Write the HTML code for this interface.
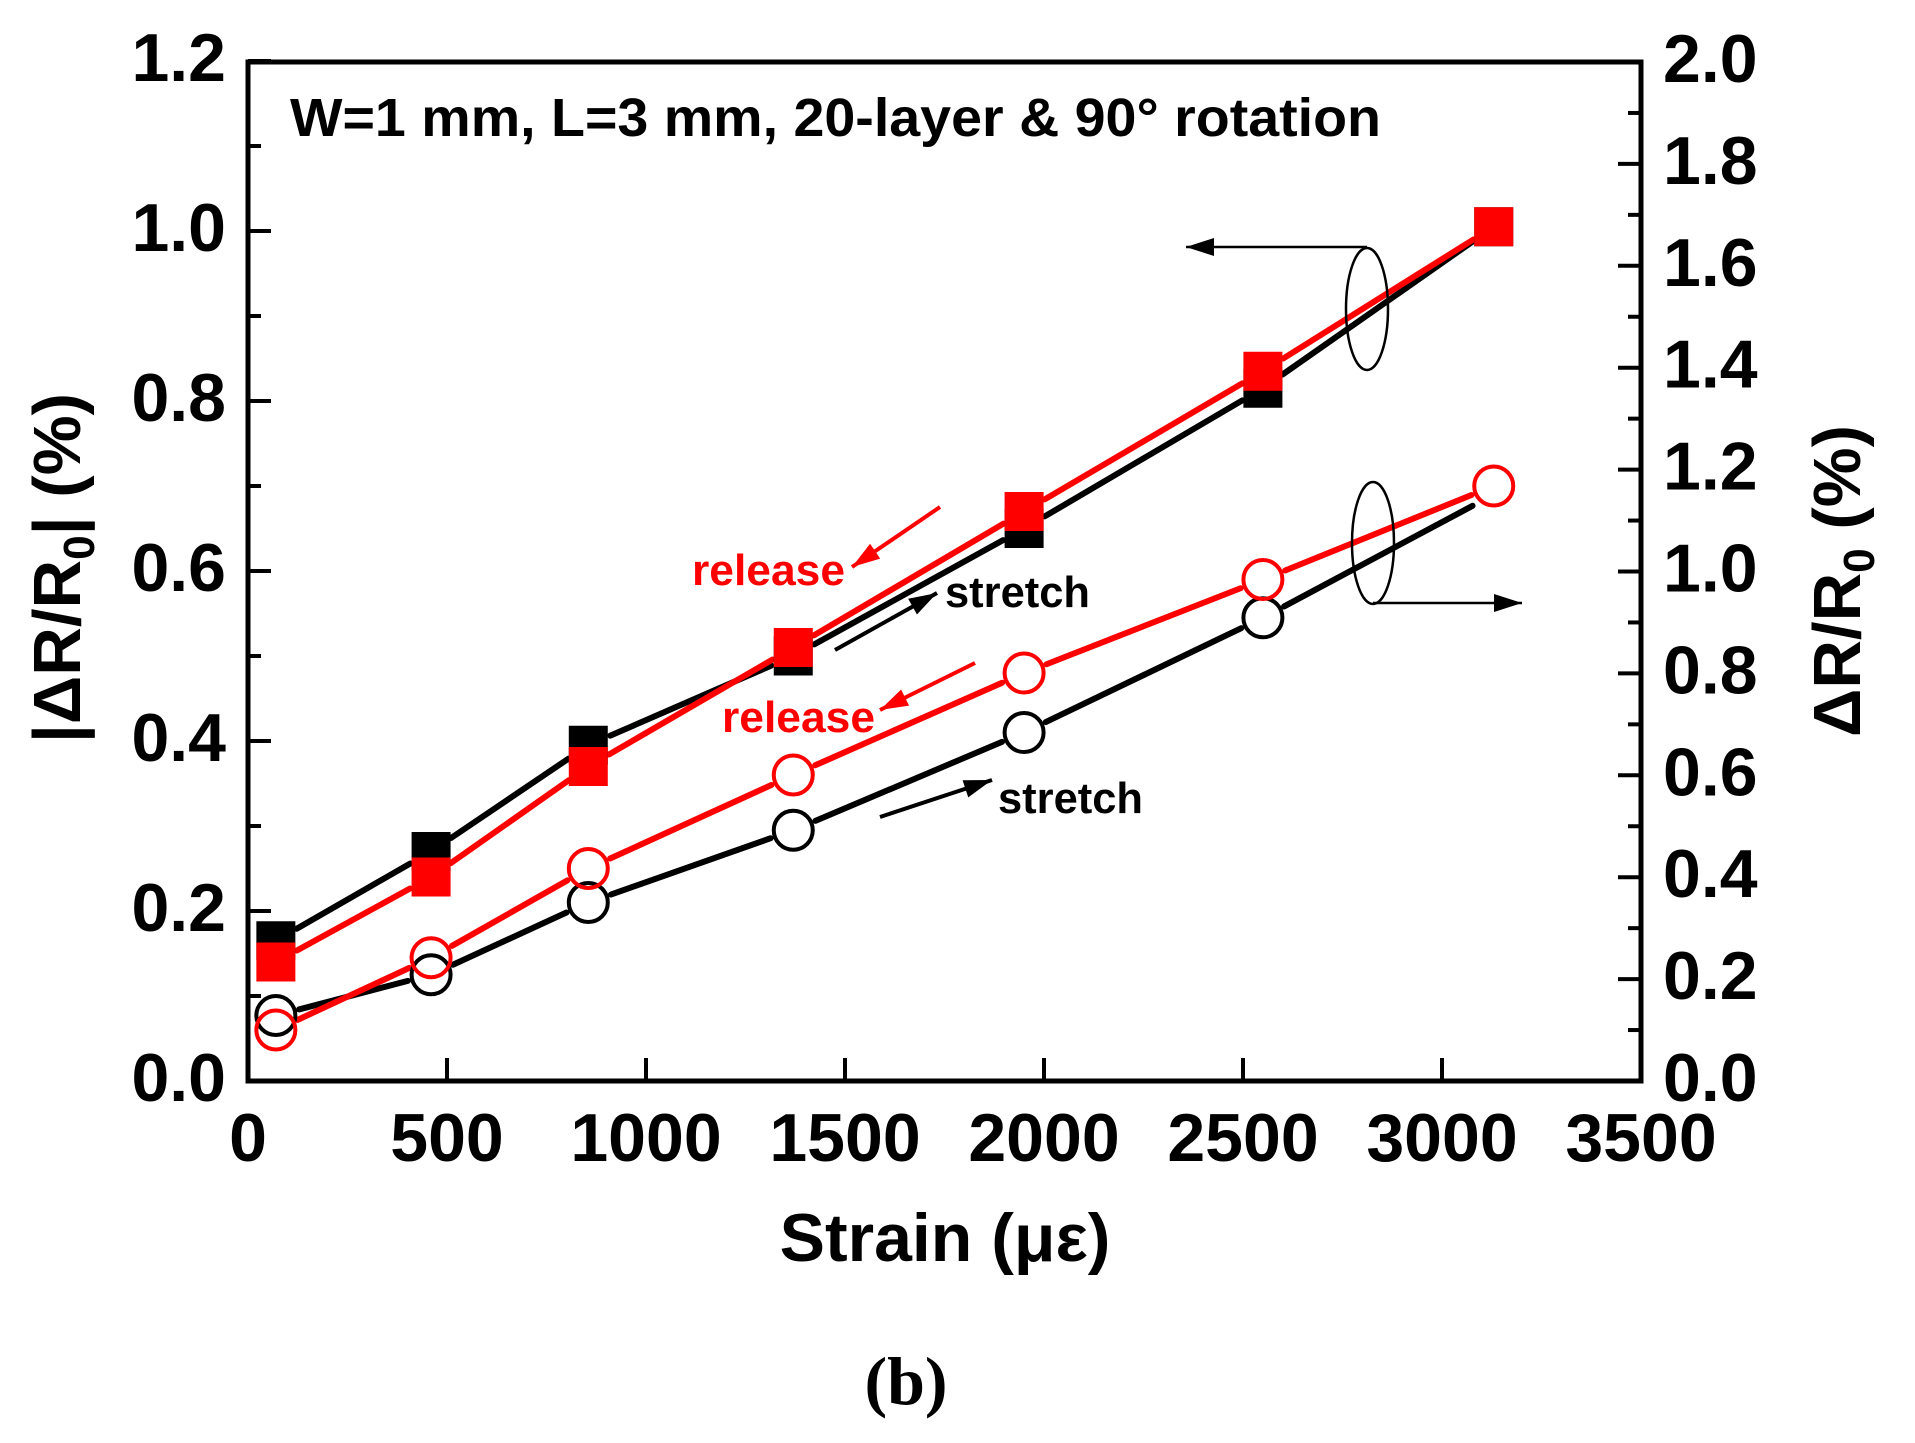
<!DOCTYPE html>
<html><head><meta charset="utf-8"><style>
html,body{margin:0;padding:0;background:#fff}
svg{display:block}
text{font-family:"Liberation Sans",sans-serif;font-weight:bold}
</style></head><body>
<svg id="s" width="1915" height="1443" viewBox="0 0 1915 1443" xmlns="http://www.w3.org/2000/svg">
<rect width="1915" height="1443" fill="#fff"/>
<g id="g"></g>
<rect x="248" y="62" width="1393" height="1019" fill="none" stroke="#000" stroke-width="5"/>
<text x="290" y="136" font-size="54" textLength="1091" lengthAdjust="spacingAndGlyphs">W=1 mm, L=3 mm, 20-layer &amp;  90° rotation</text>
<text x="692" y="585" font-size="44" fill="#f00" textLength="153" lengthAdjust="spacingAndGlyphs">release</text>
<text x="945" y="607" font-size="44" textLength="145" lengthAdjust="spacingAndGlyphs">stretch</text>
<text x="722" y="732" font-size="44" fill="#f00" textLength="153" lengthAdjust="spacingAndGlyphs">release</text>
<text x="998" y="813" font-size="44" textLength="145" lengthAdjust="spacingAndGlyphs">stretch</text>
<text x="945" y="1261" font-size="68" text-anchor="middle">Strain (με)</text>
<text transform="translate(80,568) rotate(-90)" font-size="67" text-anchor="middle" textLength="350" lengthAdjust="spacingAndGlyphs">|ΔR/R<tspan font-size="44" dy="14">0</tspan><tspan dy="-14">| (%)</tspan></text>
<text transform="translate(1860,581) rotate(-90)" font-size="67" text-anchor="middle" textLength="312" lengthAdjust="spacingAndGlyphs">ΔR/R<tspan font-size="44" dy="14">0</tspan><tspan dy="-14"> (%)</tspan></text>
<text x="906" y="1404" font-size="68" text-anchor="middle" style="font-family:'Liberation Serif',serif;font-weight:bold">(b)</text>
</svg>
<script>
const g=document.getElementById('g');const NS='http://www.w3.org/2000/svg';
function el(t,a){const e=document.createElementNS(NS,t);for(const k in a)e.setAttribute(k,a[k]);g.appendChild(e);return e;}
const X=v=>248+v*0.398, YL=v=>1081-v*850, YR=v=>1081-v*509.5;
for(let v=0;v<=1.2001;v+=0.1){const y=YL(v);const maj=Math.round(v*10)%2==0;el('line',{x1:248,x2:248+(maj?23:13),y1:y,y2:y,stroke:'#000','stroke-width':4});
 if(maj){const t=el('text',{x:226,y:y+20,'font-size':68,'text-anchor':'end'});t.textContent=v.toFixed(1);}}
for(let v=0;v<=2.0001;v+=0.1){const y=YR(v);const maj=Math.round(v*10)%2==0;el('line',{x1:1641,x2:1641-(maj?23:13),y1:y,y2:y,stroke:'#000','stroke-width':4});
 if(maj){const t=el('text',{x:1663,y:y+20,'font-size':68});t.textContent=v.toFixed(1);}}
for(let v=0;v<=3500;v+=500){const x=X(v);el('line',{x1:x,x2:x,y1:1081,y2:1058,stroke:'#000','stroke-width':4});
 const t=el('text',{x:x,y:1161,'font-size':68,'text-anchor':'middle'});t.textContent=v;}
const xs=[70,460,855,1370,1950,2550,3130].map(X);
const sets=[
 {v:[0.165,0.27,0.395,0.5,0.65,0.815,1.005],c:'#000',m:'sq'},
 {v:[0.14,0.24,0.37,0.51,0.67,0.835,1.005],c:'#f00',m:'sq'},
 {v:[0.077,0.125,0.21,0.295,0.41,0.545,0.69],c:'#000',m:'ci',skipLast:true},
 {v:[0.06,0.145,0.25,0.36,0.48,0.59,0.70],c:'#f00',m:'ci'}];
sets.forEach(s=>{
 for(let i=0;i<6;i++){const x1=xs[i],y1=YL(s.v[i]),x2=xs[i+1],y2=YL(s.v[i+1]);const dx=x2-x1,dy=y2-y1,L=Math.hypot(dx,dy);const g1=24,g2=24;
  el('line',{x1:x1+dx*g1/L,y1:y1+dy*g1/L,x2:x2-dx*g2/L,y2:y2-dy*g2/L,stroke:s.c,'stroke-width':6,'stroke-linecap':'round'});}
});
sets.forEach(s=>{
 for(let i=0;i<7;i++){if(s.skipLast&&i==6)continue;const x=xs[i],y=YL(s.v[i]);
  if(s.m=='sq')el('rect',{x:x-19.5,y:y-19.5,width:39,height:39,fill:s.c});
  else el('circle',{cx:x,cy:y,r:19.5,fill:'none',stroke:s.c,'stroke-width':4});}
});
function arr(x1,y1,x2,y2,c,w){el('line',{x1,y1,x2,y2,stroke:c,'stroke-width':w});
 const dx=x2-x1,dy=y2-y1,L=Math.hypot(dx,dy),ux=dx/L,uy=dy/L,h=28,hw=9;
 el('path',{d:`M${x2},${y2} L${x2-ux*h-uy*hw},${y2-uy*h+ux*hw} L${x2-ux*h+uy*hw},${y2-uy*h-ux*hw}Z`,fill:c});}
arr(940,507,852,567,'#f00',4);
arr(835,650,937,593,'#000',4);
arr(975,663,880,710,'#f00',4);
arr(880,817,992,780,'#000',4);
el('ellipse',{cx:1367,cy:309,rx:21,ry:61,fill:'none',stroke:'#000','stroke-width':2.5});
arr(1367,247,1186,247,'#000',2.5);
el('ellipse',{cx:1373,cy:543,rx:21,ry:61,fill:'none',stroke:'#000','stroke-width':2.5});
arr(1373,603,1522,603,'#000',2.5);
</script>
</body></html>
